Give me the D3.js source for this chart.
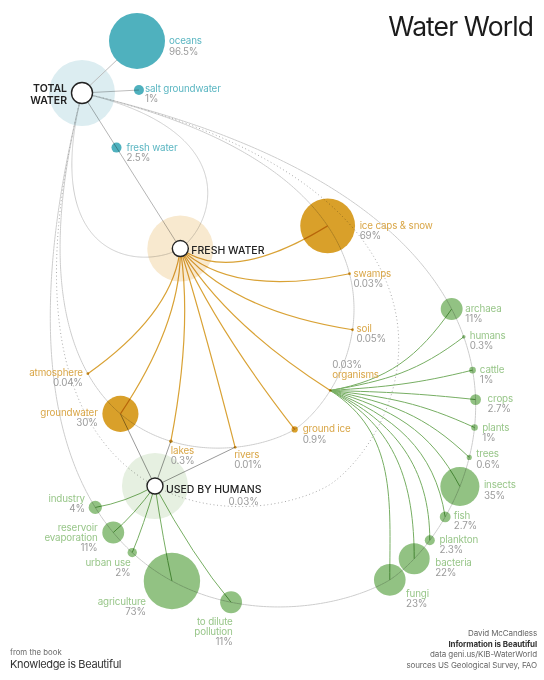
<!DOCTYPE html>
<html><head><meta charset="utf-8">
<script src="https://cdn.jsdelivr.net/npm/d3@7"></script>
<style>
html,body{margin:0;padding:0;background:#fff;}
svg{display:block;font-family:Inter,"Noto Sans",sans-serif;}
</style></head><body>
<svg id="chart" width="544" height="680"></svg>
<script>
// ---------------- DATA ----------------
const hubNames = ["TOTAL WATER", "FRESH WATER", "USED BY HUMANS"];
const totalNames = ["oceans", "salt groundwater", "fresh water"];
const totalShares = [96.5, 1, 2.5];
const freshNames = ["ice caps & snow", "swamps", "soil", "organisms", "ground ice", "rivers", "lakes", "groundwater", "atmosphere"];
const freshShares = [69, 0.03, 0.05, 0.03, 0.9, 0.01, 0.3, 30, 0.04];
const humanTotalShare = 0.03;
const humanNames = ["industry", "reservoir evaporation", "urban use", "agriculture", "to dilute pollution"];
const humanShares = [4, 11, 2, 73, 11];
const organismNames = ["archaea", "humans", "cattle", "crops", "plants", "trees", "insects", "fish", "plankton", "bacteria", "fungi"];
const organismShares = [11, 0.3, 1, 2.7, 1, 0.6, 35, 2.7, 2.3, 22, 23];
const humanSources = ["groundwater", "lakes", "rivers"];

// ---------------- LAYOUT ----------------
const drop = {tipX: 82, tipY: 93, angle: 57.7, cR: 0.99, cL: 1.052, q: 0.6};
const ring = {L1: 184, L2: 398, L3: 463.5, L4: 576};
const totalPolar = [{a: -43.4, d: 75.7}, {a: -3, d: 57}, null];
const freshS = [0.612, 0.743, 0.866, 0.965, 1, 0.958, 0.859, 0.733, 0.604];
const freshSide = [1, 1, 1, 1, 0, -1, -1, -1, -1];
const humanS = [0.6205, 0.674, 0.721, 0.7995, 0.8856];
const organismS = [0.66, 0.712, 0.769, 0.815, 0.855, 0.894, 0.928, 0.959, 0.979, 0.9917, 1];
const wrapLines = {"reservoir evaporation": ["reservoir", "evaporation"], "to dilute pollution": ["to dilute", "pollution"]};
// label offsets [dx, dy, anchor, pctAbove]
const totalLab = [[32, 3.5, "start"], [6, 2, "start"], [10, 3.7, "start"]];
const freshLab = [[32, 3.3, "start"], [4, 3, "start"], [4, 2.5, "start"], [2, -12, "start", true], [8, 3, "start"], [-1, 11, "start"], [0, 12.7, "start"], [-22.7, 2, "end"], [-5, 2.3, "end"]];
const humanLab = [[-10.3, -5.7, "end"], [-15.7, -2, "end"], [-1.7, 13.3, "end"], [-26, 24, "end"], [1.6, 22.4, "end"]];
const organismLab = [[13.7, 3], [6, 2.3], [7.3, 3], [12, 2], [7.7, 3.3], [7, 0], [24, 2], [8.7, 2], [9.7, 3], [21, 7.3], [16.3, 17]];
const lineGap = 10.2;

const C = {
  teal: "#4fb1be", tealText: "#5bb6c2",
  orange: "#d9a02a", orangeText: "#d9a647", orangeLine: "#d9a235",
  green: "#92c283", greenText: "#98c689", greenLine: "#77ae63",
  pct: "#9b9b9b", ring: "#cdcdcd", dark: "#222"
};

// ---------------- HELPERS ----------------
const svg = d3.select("#chart");
const RAD = Math.PI / 180;
const ax = Math.cos(drop.angle * RAD), ay = Math.sin(drop.angle * RAD);
const px = ay, py = -ax;
function dropPoint(L, s, side) {
  const u = s * L;
  const c = side > 0 ? drop.cR : drop.cL;
  const w = side === 0 ? 0 : side * c * s * Math.pow(Math.max(0, 1 - s), drop.q) * L;
  return [drop.tipX + u * ax + w * px, drop.tipY + u * ay + w * py];
}
function dropPath(L) {
  const n = 300, pts = [];
  for (let i = 0; i <= n; i++) { const s = (1 - Math.cos(Math.PI * i / n)) / 2; pts.push(dropPoint(L, s, 1)); }
  for (let i = n; i >= 0; i--) { const s = (1 - Math.cos(Math.PI * i / n)) / 2; pts.push(dropPoint(L, s, -1)); }
  return d3.line()(pts);
}
const rTotal = d3.scaleSqrt().domain([0, 100]).range([0, 28.5]);
const rShare = d3.scaleSqrt().domain([0, 100]).range([0, 33]);
const rMin = v => Math.max(1.4, rShare(v));
const pctFmt = v => `${v}%`;
const clamp = (v, a, b) => Math.max(a, Math.min(b, v));

const tip = [drop.tipX, drop.tipY];
const hubPos = [tip, dropPoint(ring.L1, 1, 0), dropPoint(ring.L3, 0.8008, -1)];

const totalNodes = totalNames.map((n, i) => {
  let pos;
  if (totalPolar[i]) pos = [tip[0] + totalPolar[i].d * Math.cos(totalPolar[i].a * RAD), tip[1] + totalPolar[i].d * Math.sin(totalPolar[i].a * RAD)];
  else pos = dropPoint(ring.L1, 0.351, 0);
  return {name: n, v: totalShares[i], pos, r: Math.max(rTotal(totalShares[i]), 5), lab: totalLab[i]};
});
const freshNodes = freshNames.map((n, i) => ({name: n, v: freshShares[i], pos: dropPoint(ring.L2, freshS[i], freshSide[i]), r: rMin(freshShares[i]), lab: freshLab[i]}));
const humanNodes = humanNames.map((n, i) => ({name: n, v: humanShares[i], pos: dropPoint(ring.L4, humanS[i], -1), r: rShare(humanShares[i]), lab: humanLab[i]}));
const organismNodes = organismNames.map((n, i) => ({name: n, v: organismShares[i], pos: dropPoint(ring.L4, organismS[i], 1), r: rMin(organismShares[i]), lab: [organismLab[i][0], organismLab[i][1], "start"]}));
const orgHub = freshNodes[freshNames.indexOf("organisms")].pos;

function freshLink(p0, p1) {
  const dx = p1[0] - p0[0], dy = p1[1] - p0[1], dist = Math.hypot(dx, dy);
  const chord = Math.atan2(dy, dx) / RAD;
  const a = (chord + 0.55 * (72 - chord)) * RAD;
  const k = 0.42 * dist;
  const p = d3.path(); p.moveTo(p0[0], p0[1]);
  p.quadraticCurveTo(p0[0] + k * Math.cos(a), p0[1] + k * Math.sin(a), p1[0], p1[1]);
  return p.toString();
}
function humanLink(p0, p1) {
  const dist = Math.hypot(p1[0] - p0[0], p1[1] - p0[1]);
  const p = d3.path(); p.moveTo(p0[0], p0[1]);
  p.quadraticCurveTo((p0[0] + p1[0]) / 2, (p0[1] + p1[1]) / 2 + 0.09 * dist, p1[0], p1[1]);
  return p.toString();
}
function orgLink(p0, p1) {
  const dx = p1[0] - p0[0], dy = p1[1] - p0[1], dist = Math.hypot(dx, dy);
  const chord = Math.atan2(dy, dx) / RAD;
  const a = clamp(0.45 * chord, -10, 40) * RAD, b = clamp(1.7 * chord, -55, 90) * RAD;
  const k = 0.4 * dist;
  const p = d3.path(); p.moveTo(p0[0], p0[1]);
  p.bezierCurveTo(p0[0] + k * Math.cos(a), p0[1] + k * Math.sin(a), p1[0] - k * Math.cos(b), p1[1] - k * Math.sin(b), p1[0], p1[1]);
  return p.toString();
}

// ---------------- DRAW ----------------
const haloCol = ["#dcedf1", "#f8e9cf", "#e6f0e1"];
svg.append("g").selectAll("circle").data(hubPos).join("circle")
  .attr("cx", d => d[0]).attr("cy", d => d[1]).attr("r", 33).attr("fill", (d, i) => haloCol[i]);

svg.append("line").attr("x1", tip[0]).attr("y1", tip[1]).attr("x2", totalNodes[0].pos[0]).attr("y2", totalNodes[0].pos[1])
  .attr("stroke", "#bdbdbd").attr("stroke-width", 1);

function drawCircles(nodes, fill) {
  svg.append("g").selectAll("circle").data(nodes).join("circle")
    .attr("cx", d => d.pos[0]).attr("cy", d => d.pos[1]).attr("r", d => d.r).attr("fill", fill);
}
drawCircles(totalNodes, C.teal);
drawCircles(freshNodes, C.orange);
drawCircles(humanNodes, C.green);
drawCircles(organismNodes, C.green);

const lines = svg.append("g").style("mix-blend-mode", "multiply").attr("fill", "none");
[ring.L1, ring.L2, ring.L4].forEach(L => lines.append("path").attr("d", dropPath(L)).attr("stroke", C.ring).attr("stroke-width", 1));
lines.append("path").attr("d", dropPath(ring.L3)).attr("stroke", "#a9a9a9").attr("stroke-width", 1).attr("stroke-dasharray", "1,2.6");
lines.append("line").attr("x1", tip[0]).attr("y1", tip[1]).attr("x2", totalNodes[1].pos[0]).attr("y2", totalNodes[1].pos[1]).attr("stroke", "#bdbdbd");
lines.append("line").attr("x1", tip[0]).attr("y1", tip[1]).attr("x2", hubPos[1][0]).attr("y2", hubPos[1][1]).attr("stroke", "#b5b5b5");
lines.selectAll(".fl").data(freshNodes).join("path").attr("class", "fl")
  .attr("d", d => freshLink(hubPos[1], d.pos)).attr("stroke", C.orangeLine).attr("stroke-width", 1.2);
lines.selectAll(".hs").data(humanSources.map(n => freshNodes[freshNames.indexOf(n)])).join("line").attr("class", "hs")
  .attr("x1", d => d.pos[0]).attr("y1", d => d.pos[1]).attr("x2", hubPos[2][0]).attr("y2", hubPos[2][1])
  .attr("stroke", "#9a9a9a").attr("stroke-width", 1);
lines.selectAll(".hl").data(humanNodes).join("path").attr("class", "hl")
  .attr("d", d => humanLink(hubPos[2], d.pos)).attr("stroke", C.greenLine).attr("stroke-width", 1);
lines.selectAll(".ol").data(organismNodes).join("path").attr("class", "ol")
  .attr("d", d => orgLink(orgHub, d.pos)).attr("stroke", C.greenLine).attr("stroke-width", 1);

svg.append("g").selectAll("circle").data(hubPos).join("circle")
  .attr("cx", d => d[0]).attr("cy", d => d[1]).attr("r", (d, i) => [10.5, 8, 8][i])
  .attr("fill", "#fff").attr("stroke", C.dark).attr("stroke-width", 1.4);

// node labels: one text element per node, lines as tspans
const labels = svg.append("g").attr("font-size", 9.8).attr("letter-spacing", -0.15);
function drawLabels(nodes, nameCol) {
  nodes.forEach(d => {
    const [dx, dy, anchor, pctAbove] = d.lab;
    const x = d.pos[0] + dx, y = d.pos[1] + dy;
    const t = labels.append("text").attr("text-anchor", anchor);
    let rows = (wrapLines[d.name] || [d.name]).map(s => ({s, col: nameCol}));
    const pctRow = {s: pctFmt(d.v), col: C.pct};
    if (pctAbove) rows = [pctRow, ...rows]; else rows.push(pctRow);
    const y0 = pctAbove ? y - lineGap : y;
    rows.forEach((r, j) => t.append("tspan").attr("x", x).attr("y", y0 + j * lineGap).attr("fill", r.col).text(r.s));
  });
}
drawLabels(totalNodes, C.tealText);
drawLabels(freshNodes, C.orangeText);
drawLabels(humanNodes, C.greenText);
drawLabels(organismNodes, C.greenText);

// hub labels
const hl = svg.append("g").attr("font-size", 10.5).attr("font-weight", 500).attr("fill", C.dark);
const tw = hubNames[0].split(" ");
const tt = hl.append("text").attr("text-anchor", "end").attr("font-weight", 600);
tt.append("tspan").attr("x", tip[0] - 15).attr("y", tip[1] - 1.5).text(tw[0]);
tt.append("tspan").attr("x", tip[0] - 15).attr("y", tip[1] + 11.2).text(tw[1]);
hl.append("text").attr("x", hubPos[1][0] + 11).attr("y", hubPos[1][1] + 5.5).text(hubNames[1]);
hl.append("text").attr("x", hubPos[2][0] + 11).attr("y", hubPos[2][1] + 7.5).text(hubNames[2]);
svg.append("text").attr("x", hubPos[2][0] + 104).attr("y", hubPos[2][1] + 18.8).attr("text-anchor", "end")
  .attr("font-size", 9.8).attr("fill", C.pct).text(pctFmt(humanTotalShare));

// title
svg.append("text").attr("x", 533).attr("y", 36).attr("text-anchor", "end").attr("font-size", 26.5)
  .attr("letter-spacing", -0.9).attr("fill", "#1b1b1b").text("Water World");

// footer
const fl = svg.append("text").attr("fill", "#555");
fl.append("tspan").attr("x", 10).attr("y", 654.5).attr("font-size", 7.8).attr("fill", "#6a6a6a").text("from the book");
fl.append("tspan").attr("x", 10).attr("y", 667.5).attr("font-size", 11).attr("letter-spacing", -0.35).attr("fill", "#333").text("Knowledge is Beautiful");
const credits = [["David McCandless", 636, 400, "#666"], ["Information is Beautiful", 646.5, 700, "#333"], ["data geni.us/KIB-WaterWorld", 657, 400, "#666"], ["sources US Geological Survey, FAO", 667.5, 400, "#666"]];
const cr = svg.append("text").attr("text-anchor", "end").attr("font-size", 8).attr("letter-spacing", -0.1);
credits.forEach(c => cr.append("tspan").attr("x", 537).attr("y", c[1]).attr("font-weight", c[2]).attr("fill", c[3]).text(c[0]));
</script>
</body></html>
